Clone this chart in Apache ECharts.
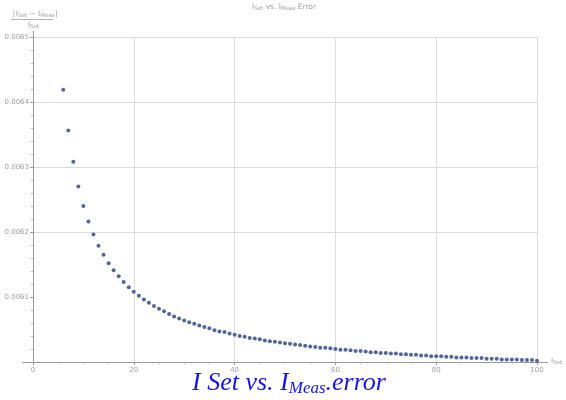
<!DOCTYPE html>
<html>
<head>
<meta charset="utf-8">
<script src="https://cdn.jsdelivr.net/npm/echarts@6/dist/echarts.min.js"></script>
<style>html,body{margin:0;padding:0;background:#fff}#c{width:566px;height:400px}</style>
</head>
<body>
<div id="c"></div>
<script>
// I_Set values
const iSet = [6,7,8,9,10,11,12,13,14,15,16,17,18,19,20,21,22,23,24,25,26,27,28,29,30,31,32,33,34,35,36,37,38,39,40,41,42,43,44,45,46,47,48,49,50,51,52,53,54,55,56,57,58,59,60,61,62,63,64,65,66,67,68,69,70,71,72,73,74,75,76,77,78,79,80,81,82,83,84,85,86,87,88,89,90,91,92,93,94,95,96,97,98,99,100];
// |I_Set - I_Meas| / I_Set
const relError = [0.006419,0.006356,0.006308,0.006270,0.006240,0.006216,0.006196,0.006179,0.006165,0.006152,0.006141,0.006132,0.006123,0.006115,0.006108,0.006102,0.006096,0.006091,0.006086,0.006082,0.006078,0.006074,0.006070,0.006067,0.006064,0.006061,0.006059,0.006056,0.006054,0.006052,0.006049,0.006047,0.006046,0.006044,0.006042,0.006040,0.006039,0.006037,0.006036,0.006035,0.006033,0.006032,0.006031,0.006030,0.006029,0.006028,0.006027,0.006026,0.006025,0.006024,0.006023,0.006022,0.006022,0.006021,0.006020,0.006019,0.006019,0.006018,0.006017,0.006017,0.006016,0.006015,0.006015,0.006014,0.006014,0.006013,0.006013,0.006012,0.006012,0.006011,0.006011,0.006010,0.006010,0.006009,0.006009,0.006009,0.006008,0.006008,0.006007,0.006007,0.006007,0.006006,0.006006,0.006006,0.006005,0.006005,0.006005,0.006004,0.006004,0.006004,0.006004,0.006003,0.006003,0.006003,0.006002];
const xTicks = [0,20,40,60,80,100];
const yTicks = [0.0061,0.0062,0.0063,0.0064,0.0065];

const chart = echarts.init(document.getElementById('c'));
const axisGray = '#9a9a9a';
const gridGray = '#dcdcdc';
const txtGray = '#a0a0a0';
const capBlue = '#1414f0';
const subRich = {
  b: {fontSize: 7.5, fill: txtGray, color: txtGray, fontFamily: 'DejaVu Sans'},
  s: {fontSize: 5.5, fill: txtGray, color: txtGray, fontFamily: 'DejaVu Sans', verticalAlign: 'bottom', padding: [4,0,0,0]}
};
chart.setOption({
  animation: false,
  backgroundColor: '#fff',
  grid: {left: 33, right: 29, top: 37, bottom: 38},
  xAxis: {
    type: 'value', min: 0, max: 100, interval: 20,
    axisLine: {show: true, lineStyle: {color: axisGray, width: 1}},
    axisTick: {show: true, length: 3, lineStyle: {color: axisGray}},
    minorTick: {show: true, splitNumber: 4, length: 2, lineStyle: {color: '#b8b8b8'}},
    axisLabel: {show: true, color: txtGray, fontSize: 7, fontFamily: 'DejaVu Sans', margin: 5,
      customValues: xTicks},
    splitLine: {show: true, lineStyle: {color: gridGray, width: 1}, showMinLine: false}
  },
  yAxis: {
    type: 'value', min: 0.006, max: 0.0065, interval: 0.0001,
    axisLine: {show: true, onZero: false, lineStyle: {color: axisGray, width: 1}},
    axisTick: {show: true, length: 3, lineStyle: {color: axisGray},
      customValues: yTicks},
    minorTick: {show: true, splitNumber: 5, length: 2, lineStyle: {color: '#b8b8b8'}},
    axisLabel: {color: txtGray, fontSize: 7, fontFamily: 'DejaVu Sans', margin: 4,
      customValues: yTicks,
      formatter: v => v.toFixed(4)},
    splitLine: {show: true, lineStyle: {color: gridGray, width: 1}, showMinLine: false}
  },
  series: [{
    type: 'scatter',
    data: iSet.map((x, i) => [x, relError[i]]),
    symbol: 'circle',
    symbolSize: 4,
    itemStyle: {color: '#52659f', opacity: 1}
  }],
  graphic: [
    {type: 'line', shape: {x1: 22, y1: 362.5, x2: 33, y2: 362.5}, style: {stroke: axisGray, lineWidth: 1}, silent: true},
    {type: 'line', shape: {x1: 537, y1: 362.5, x2: 548, y2: 362.5}, style: {stroke: axisGray, lineWidth: 1}, silent: true},
    {type: 'line', shape: {x1: 33.5, y1: 31, x2: 33.5, y2: 37}, style: {stroke: axisGray, lineWidth: 1}, silent: true},
    {type: 'text', left: 252, top: 3, style: {fill: txtGray,
      text: '{b|I}{s|Set}{b| vs. I}{s|Meas}{b| Error}', rich: subRich}},
    {type: 'text', left: 12, top: 10, style: {fill: txtGray,
      text: '{b|\u2223I}{s|Set}{b| \u2212 I}{s|Meas}{b|\u2223}', rich: subRich}},
    {type: 'line', shape: {x1: 11, y1: 19.5, x2: 53, y2: 19.5}, style: {stroke: txtGray, lineWidth: 0.8}, silent: true},
    {type: 'text', left: 28, top: 21, style: {fill: txtGray,
      text: '{b|I}{s|Set}', rich: subRich}},
    {type: 'text', left: 551, top: 357, style: {fill: txtGray,
      text: '{b|I}{s|Set}', rich: subRich}},
    {type: 'text', left: 192, top: 370, style: {
      fill: capBlue,
      text: '{m|I Set vs. I}{sub|Meas}{m|.error}',
      rich: {
        m: {fontSize: 26, fontStyle: 'italic', fontFamily: 'Liberation Serif', fill: capBlue, color: capBlue},
        sub: {fontSize: 17, fontStyle: 'italic', fontFamily: 'Liberation Serif', fill: capBlue, color: capBlue, verticalAlign: 'bottom', padding: [12,0,0,0]}
      }}}
  ]
});
</script>
</body>
</html>
